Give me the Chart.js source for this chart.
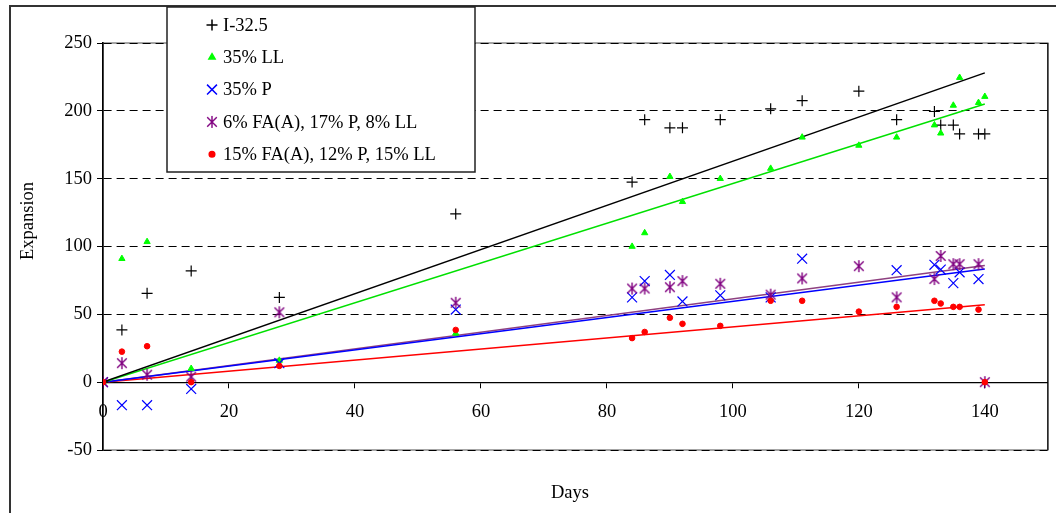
<!DOCTYPE html>
<html>
<head>
<meta charset="utf-8">
<script src="https://cdn.jsdelivr.net/npm/chart.js@4.4.1/dist/chart.umd.min.js"></script>
<style>
  html, body { margin: 0; padding: 0; background: #fff; }
  #wrap { width: 1056px; height: 513px; }
</style>
</head>
<body>
<div id="wrap"><canvas id="c" width="1056" height="513"></canvas></div>
<script>
// Expansion vs. days for five cement / limestone / pozzolan mixes
const seriesNames = ['I-32.5', '35% LL', '35% P', '6% FA(A), 17% P, 8% LL', '15% FA(A), 12% P, 15% LL'];

const daysI325 = [0, 3, 7, 14, 28, 56, 84, 86, 90, 92, 98, 106, 111, 120, 126, 132, 133, 135, 136, 139, 140];
const expI325  = [0, 38.5, 65.5, 82, 62.5, 124, 147.5, 193.5, 187.5, 187.5, 193.5, 201.5, 207.5, 214.5, 193.5, 199.5, 189.5, 189.5, 183, 183, 183];

const days35LL = [0, 3, 7, 14, 28, 56, 84, 86, 90, 92, 98, 106, 111, 120, 126, 132, 133, 135, 136, 139, 140];
const exp35LL  = [0, 91, 103.5, 10, 16, 36, 100, 110, 151.5, 133, 150, 157.5, 180.5, 174.5, 180.5, 189.5, 183.5, 204, 224.5, 206, 210.5];

const days35P = [0, 3, 7, 14, 28, 56, 84, 86, 90, 92, 98, 106, 111, 126, 132, 133, 135, 136, 139];
const exp35P  = [0, -17, -17, -5, 14, 53.5, 62.5, 74.5, 79, 59.5, 64, 62.5, 91, 82.5, 86.5, 83, 73, 81, 76];

const daysFA6 = [0, 3, 7, 14, 28, 56, 84, 86, 90, 92, 98, 106, 111, 120, 126, 132, 133, 135, 136, 139, 140];
const expFA6  = [0, 14, 5.5, 4, 51.5, 58.5, 69, 69, 70, 74.5, 72.5, 64.5, 76.5, 85.5, 62.5, 76, 93, 87, 87, 87, 0];

const daysFA15 = [0, 3, 7, 14, 28, 56, 84, 86, 90, 92, 98, 106, 111, 120, 126, 132, 133, 135, 136, 139, 140];
const expFA15  = [0, 22.5, 26.5, 0, 12, 38.5, 32.5, 37, 47.5, 43, 41.5, 60, 60, 52, 55.5, 60, 58, 55.5, 55.5, 53.5, 0];

// Linear trend (through the origin) of each series, value reached at the last day
const trendLastDay = 140;
const trendAtLastDay = [228, 205, 83.5, 86, 57];

const xTicks = [0, 20, 40, 60, 80, 100, 120, 140];
const yTicks = [-50, 0, 50, 100, 150, 200, 250];

const FONT = "'Liberation Serif', 'Times New Roman', serif";
const FONT_SIZE = 18.5;

// Asterisk marker: a cross with a vertical bar
function makeStar(color, size) {
  const c = document.createElement('canvas');
  c.width = size; c.height = size;
  const g = c.getContext('2d');
  const m = size / 2, r = size / 2 - 1;
  g.strokeStyle = color;
  g.lineWidth = 1.4;
  g.beginPath();
  g.moveTo(m - r * 0.8, m - r * 0.8); g.lineTo(m + r * 0.8, m + r * 0.8);
  g.moveTo(m + r * 0.8, m - r * 0.8); g.lineTo(m - r * 0.8, m + r * 0.8);
  g.moveTo(m, m - r); g.lineTo(m, m + r);
  g.stroke();
  return c;
}

const seriesDays = [daysI325, days35LL, days35P, daysFA6, daysFA15];
const seriesVals = [expI325, exp35LL, exp35P, expFA6, expFA15];

const markerStyles = [
  { pointStyle: 'cross',    color: '#000000', radius: 5.5, width: 1.2, line: '#000000' },
  { pointStyle: 'triangle', color: '#00ff00', radius: 3.6, width: 1,   line: '#00e000' },
  { pointStyle: 'crossRot', color: '#0000ff', radius: 7,   width: 1.2, line: '#0000ff' },
  { pointStyle: makeStar('#800080', 14), color: '#800080', radius: 6, width: 1, line: '#8e4080' },
  { pointStyle: 'circle',   color: '#ff0000', radius: 2.8, width: 1,   line: '#ff0000' }
];

const datasets = [];
seriesNames.forEach((name, i) => {
  const st = markerStyles[i];
  datasets.push({
    type: 'scatter',
    label: name,
    data: seriesDays[i].map((d, j) => ({ x: d, y: seriesVals[i][j] })),
    pointStyle: st.pointStyle,
    pointRadius: st.radius,
    pointBorderColor: st.color,
    pointBackgroundColor: st.color,
    pointBorderWidth: st.width,
    showLine: false,
    order: 5 - i
  });
});
seriesNames.forEach((name, i) => {
  datasets.push({
    type: 'line',
    label: name + ' trend',
    data: [{ x: 0, y: 0 }, { x: trendLastDay, y: trendAtLastDay[i] }],
    borderColor: markerStyles[i].line,
    borderWidth: 1.5,
    pointRadius: 0,
    fill: false,
    tension: 0,
    order: 20 + i
  });
});

// White page, outer frame and plot-area frame
const framePlugin = {
  id: 'frame',
  beforeDraw(chart) {
    const ctx = chart.ctx, a = chart.chartArea;
    ctx.save();
    ctx.fillStyle = '#fff';
    ctx.fillRect(0, 0, chart.width, chart.height);
    ctx.strokeStyle = '#333';
    ctx.lineWidth = 2;
    ctx.beginPath();
    ctx.moveTo(10, chart.height + 2);
    ctx.lineTo(10, 6);
    ctx.lineTo(chart.width + 2, 6);
    ctx.stroke();
    ctx.strokeStyle = '#888';
    ctx.lineWidth = 1.5;
    ctx.strokeRect(a.left, a.top, a.right - a.left, a.bottom - a.top);
    ctx.strokeStyle = '#222';
    ctx.beginPath();
    ctx.moveTo(a.right, a.top);
    ctx.lineTo(a.right, a.bottom);
    ctx.stroke();
    ctx.restore();
  }
};

// Axis titles
const titlesPlugin = {
  id: 'titles',
  afterDraw(chart) {
    const ctx = chart.ctx;
    ctx.save();
    ctx.fillStyle = '#000';
    ctx.font = FONT_SIZE + 'px ' + FONT;
    ctx.textAlign = 'center';
    ctx.textBaseline = 'middle';
    ctx.fillText('Days', 570, 493);
    ctx.translate(28, 221);
    ctx.rotate(-Math.PI / 2);
    ctx.fillText('Expansion', 0, 0);
    ctx.restore();
  }
};

// Boxed legend sitting over the top of the plot
const boxLegendPlugin = {
  id: 'boxLegend',
  afterDraw(chart) {
    const ctx = chart.ctx;
    const box = { x: 167, y: 7, w: 308, h: 165 };
    ctx.save();
    ctx.fillStyle = '#fff';
    ctx.fillRect(box.x, box.y, box.w, box.h);
    ctx.strokeStyle = '#222';
    ctx.lineWidth = 1.5;
    ctx.strokeRect(box.x, box.y, box.w, box.h);
    ctx.font = FONT_SIZE + 'px ' + FONT;
    ctx.textBaseline = 'middle';
    ctx.textAlign = 'left';
    seriesNames.forEach((name, i) => {
      const y = 25 + i * 32.3;
      const st = markerStyles[i];
      ctx.strokeStyle = st.color;
      ctx.fillStyle = st.color;
      Chart.helpers.drawPoint(ctx, {
        pointStyle: st.pointStyle,
        radius: st.radius,
        borderWidth: st.width,
        rotation: 0
      }, 212, y);
      ctx.fillStyle = '#000';
      ctx.fillText(name, 223, y + 1);
    });
    ctx.restore();
  }
};

new Chart(document.getElementById('c'), {
  type: 'scatter',
  data: { datasets },
  options: {
    responsive: false,
    devicePixelRatio: 1,
    animation: false,
    events: [],
    layout: { padding: { top: 43, right: 6, bottom: 63, left: 0 } },
    plugins: { legend: { display: false }, tooltip: { enabled: false }, title: { display: false } },
    scales: {
      x: {
        type: 'linear',
        min: 0,
        max: 150,
        position: { y: 0 },
        afterBuildTicks: s => { s.ticks = xTicks.map(v => ({ value: v })); },
        afterFit: s => { s.height = 0; },
        ticks: { font: { family: FONT, size: FONT_SIZE }, color: '#000', padding: 14, maxRotation: 0, autoSkip: false },
        grid: { display: true, drawOnChartArea: false, drawTicks: true, tickLength: 5, tickColor: '#000', tickWidth: 1 },
        border: { display: true, color: '#000', width: 1.3 }
      },
      y: {
        type: 'linear',
        min: -50,
        max: 250,
        afterBuildTicks: s => { s.ticks = yTicks.map(v => ({ value: v })); },
        afterFit: s => { s.width = 103; },
        ticks: { font: { family: FONT, size: FONT_SIZE }, color: '#000', padding: 5 },
        grid: { color: '#000', lineWidth: 1, drawTicks: true, tickLength: 6, tickColor: '#000', tickWidth: 1 },
        border: { display: true, color: '#000', width: 1.6, dash: [8, 5] }
      }
    }
  },
  plugins: [framePlugin, titlesPlugin, boxLegendPlugin]
});
</script>
</body>
</html>
